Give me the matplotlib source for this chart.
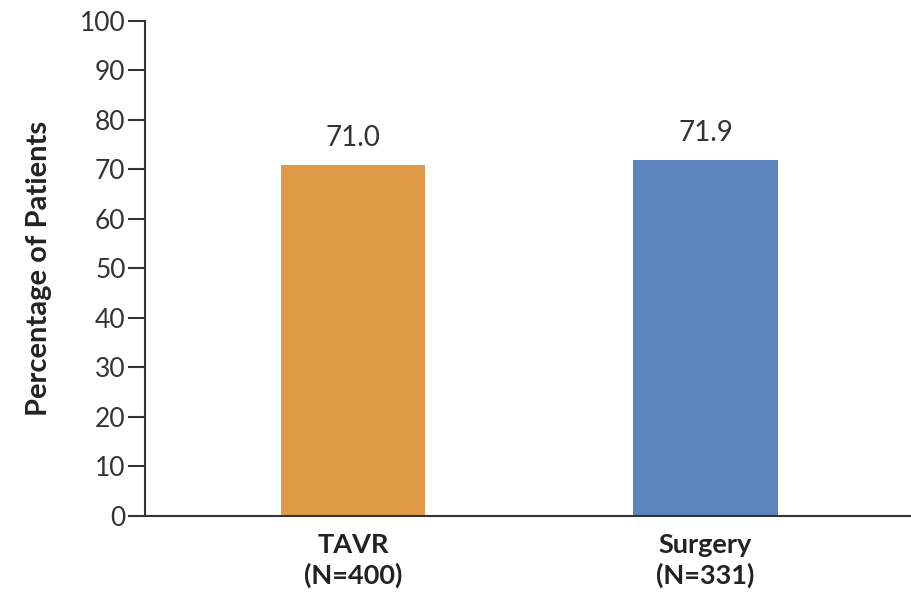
import matplotlib.pyplot as plt
import numpy as np

plt.rcParams['font.family'] = ['Lato', 'DejaVu Sans']

# data
groups = ['TAVR', 'Surgery']
group_n = [400, 331]
percent = [71.0, 71.9]
bar_colors = ['#DE9A46', '#5B84BC']

fig = plt.figure(figsize=(9.12, 5.99), dpi=100)
ax = fig.add_axes([0.159, 0.1386, 0.841, 0.8264])

x = np.arange(len(groups))
ax.bar(x, percent, width=0.41, color=bar_colors, zorder=1)

# value labels above each bar
for xi, v in zip(x, percent):
    ax.text(xi, v + 2.8, f'{v:.1f}', ha='center', va='bottom',
            fontsize=20, color='#333333')

ax.set_xlim(-0.59, 1.586)
ax.set_ylim(0, 100)
ax.set_yticks(np.arange(0, 101, 10))
ax.set_xticks(x)
ax.set_xticklabels([f'{g}\n(N={n})' for g, n in zip(groups, group_n)],
                   fontsize=19.5, fontweight='bold', color='#222222',
                   linespacing=1.3)

ax.set_ylabel('Percentage of Patients', fontsize=21, fontweight='bold',
              color='#222222', labelpad=20)

for side in ['top', 'right']:
    ax.spines[side].set_visible(False)
for side in ['left', 'bottom']:
    ax.spines[side].set_linewidth(1.5)
    ax.spines[side].set_color('#333333')
    ax.spines[side].set_zorder(3)

ax.tick_params(axis='y', direction='out', length=12, width=1.5,
               color='#333333', labelsize=19, labelcolor='#333333', pad=2)
ax.tick_params(axis='x', length=0, pad=12)

fig.savefig('out.png', dpi=100)
